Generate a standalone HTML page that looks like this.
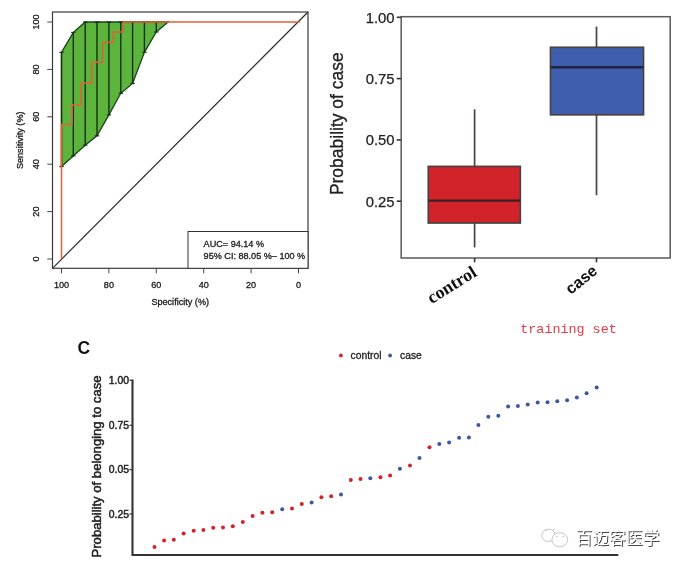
<!DOCTYPE html>
<html><head><meta charset="utf-8"><title>ROC / boxplot / probability plot</title>
<style>
html,body{margin:0;padding:0;background:#fff;}
body{width:681px;height:567px;overflow:hidden;font-family:"Liberation Sans","Noto Sans CJK SC",sans-serif;}
svg{display:block}
svg text{font-family:"Liberation Sans","Noto Sans CJK SC",sans-serif;}
</style></head><body>
<svg width="681" height="567" viewBox="0 0 681 567">
<rect width="681" height="567" fill="#fff"/>
<!-- Panel A: ROC -->
<g>
<polygon points="61.5,52.3 73.3,32.4 85.2,22.0 97.0,22.0 108.9,22.0 120.8,22.0 132.6,22.0 144.4,22.0 156.3,22.0 168.2,22.0 168.2,22.0 156.3,32.0 144.4,52.3 132.6,83.4 120.8,93.3 108.9,114.9 97.0,135.8 85.2,145.2 73.3,155.9 61.5,166.6" fill="#5db43c" stroke="#1c4418" stroke-width="1.3"/>
<g stroke="#143214" stroke-width="1.4"><line x1="61.5" y1="52.3" x2="61.5" y2="166.6"/><line x1="73.3" y1="32.4" x2="73.3" y2="155.9"/><line x1="85.2" y1="22.0" x2="85.2" y2="145.2"/><line x1="97.0" y1="22.0" x2="97.0" y2="135.8"/><line x1="108.9" y1="22.0" x2="108.9" y2="114.9"/><line x1="120.8" y1="22.0" x2="120.8" y2="93.3"/><line x1="132.6" y1="22.0" x2="132.6" y2="83.4"/><line x1="144.4" y1="22.0" x2="144.4" y2="52.3"/><line x1="156.3" y1="22.0" x2="156.3" y2="32.0"/></g><g stroke="#143214" stroke-width="1.1"><line x1="59.3" y1="52.3" x2="63.7" y2="52.3"/><line x1="71.1" y1="32.4" x2="75.5" y2="32.4"/><line x1="83.0" y1="22.0" x2="87.4" y2="22.0"/><line x1="94.8" y1="22.0" x2="99.2" y2="22.0"/><line x1="106.7" y1="22.0" x2="111.1" y2="22.0"/><line x1="118.5" y1="22.0" x2="123.0" y2="22.0"/><line x1="130.4" y1="22.0" x2="134.8" y2="22.0"/><line x1="142.2" y1="22.0" x2="146.6" y2="22.0"/><line x1="154.1" y1="22.0" x2="158.5" y2="22.0"/><line x1="59.3" y1="166.6" x2="63.7" y2="166.6"/><line x1="71.1" y1="155.9" x2="75.5" y2="155.9"/><line x1="83.0" y1="145.2" x2="87.4" y2="145.2"/><line x1="94.8" y1="135.8" x2="99.2" y2="135.8"/><line x1="106.7" y1="114.9" x2="111.1" y2="114.9"/><line x1="118.5" y1="93.3" x2="123.0" y2="93.3"/><line x1="130.4" y1="83.4" x2="134.8" y2="83.4"/><line x1="142.2" y1="52.3" x2="146.6" y2="52.3"/><line x1="154.1" y1="32.0" x2="158.5" y2="32.0"/></g>
<line x1="52.5" y1="268.3" x2="308" y2="12" stroke="#2a2a2a" stroke-width="1.2"/>
<polyline points="61.5,259 61.5,124.4 72,124.4 72,105 81.2,105 81.2,83.3 91.8,83.3 91.8,62.3 102.6,62.3 102.6,42.3 113.4,42.3 113.4,32 123.3,32 123.3,22 299.8,22" fill="none" stroke="#e55f3a" stroke-width="1.5"/>
<rect x="52.5" y="12" width="255.5" height="256.3" fill="none" stroke="#3a3a3a" stroke-width="1.2"/>
<rect x="188" y="231.5" width="120" height="36.8" fill="#fff" stroke="#333" stroke-width="1"/>
<g stroke="#444" stroke-width="1"><line x1="47.3" y1="259.0" x2="52.5" y2="259.0"/><line x1="298.5" y1="268.3" x2="298.5" y2="273.3"/><line x1="47.3" y1="211.6" x2="52.5" y2="211.6"/><line x1="251.1" y1="268.3" x2="251.1" y2="273.3"/><line x1="47.3" y1="164.2" x2="52.5" y2="164.2"/><line x1="203.7" y1="268.3" x2="203.7" y2="273.3"/><line x1="47.3" y1="116.8" x2="52.5" y2="116.8"/><line x1="156.3" y1="268.3" x2="156.3" y2="273.3"/><line x1="47.3" y1="69.4" x2="52.5" y2="69.4"/><line x1="108.9" y1="268.3" x2="108.9" y2="273.3"/><line x1="47.3" y1="22.0" x2="52.5" y2="22.0"/><line x1="61.5" y1="268.3" x2="61.5" y2="273.3"/></g>
<g font-size="9.1" fill="#1a1a1a" stroke="#1a1a1a" stroke-width="0.3"><text transform="translate(39.2,259.0) rotate(-90)" text-anchor="middle">0</text><text x="298.5" y="288" text-anchor="middle">0</text><text transform="translate(39.2,211.6) rotate(-90)" text-anchor="middle">20</text><text x="251.1" y="288" text-anchor="middle">20</text><text transform="translate(39.2,164.2) rotate(-90)" text-anchor="middle">40</text><text x="203.7" y="288" text-anchor="middle">40</text><text transform="translate(39.2,116.8) rotate(-90)" text-anchor="middle">60</text><text x="156.3" y="288" text-anchor="middle">60</text><text transform="translate(39.2,69.4) rotate(-90)" text-anchor="middle">80</text><text x="108.9" y="288" text-anchor="middle">80</text><text transform="translate(39.2,22.0) rotate(-90)" text-anchor="middle">100</text><text x="61.5" y="288" text-anchor="middle">100</text>
<text x="180.2" y="304.5" text-anchor="middle">Specificity (%)</text>
<text transform="translate(23.2,140.3) rotate(-90)" text-anchor="middle">Sensitivity (%)</text>
<text x="203.6" y="247">AUC= 94.14 %</text>
<text x="203.6" y="258.6">95% CI: 88.05 %– 100 %</text>
</g>
</g>
<!-- Panel B: boxplot -->
<g>
<rect x="401.2" y="16.7" width="269" height="241.3" fill="#fff" stroke="#5a5a5a" stroke-width="1.5"/>
<g stroke="#333" stroke-width="1.6">
<line x1="396.7" y1="17.3" x2="401" y2="17.3"/><line x1="396.7" y1="78.6" x2="401" y2="78.6"/><line x1="396.7" y1="139.9" x2="401" y2="139.9"/><line x1="396.7" y1="201.2" x2="401" y2="201.2"/>
<line x1="474.6" y1="258" x2="474.6" y2="262.3"/><line x1="596.5" y1="258" x2="596.5" y2="262.3"/>
</g>
<g font-size="14.8" fill="#222" stroke="#222" stroke-width="0.25" text-anchor="end">
<text x="394.6" y="22.6">1.00</text><text x="394.6" y="83.9">0.75</text><text x="394.6" y="145.2">0.50</text><text x="394.6" y="206.5">0.25</text>
</g>
<text transform="translate(343,123.7) rotate(-90) scale(0.972,1)" text-anchor="middle" font-size="18" fill="#222" stroke="#222" stroke-width="0.3">Probability of case</text>
<g stroke="#4a4242" stroke-width="1.7">
<line x1="474.6" y1="109.3" x2="474.6" y2="247.4"/>
<line x1="596.5" y1="26.6" x2="596.5" y2="195.2"/>
<rect x="428.3" y="166.4" width="92" height="56.6" fill="#d2232a"/>
<rect x="550.5" y="47.3" width="93" height="67.5" fill="#3f5fae"/>
</g>
<line x1="428.3" y1="200.6" x2="520.3" y2="200.6" stroke="#3a2222" stroke-width="2.4"/>
<line x1="550.5" y1="67.3" x2="643.5" y2="67.3" stroke="#20253f" stroke-width="2.4"/>
<text transform="translate(478,275.3) rotate(-32)" text-anchor="end" font-family="'Liberation Serif',serif" style="font-family:'Liberation Serif',serif" font-weight="bold" font-size="18" fill="#111">control</text>
<text transform="translate(598.5,272.6) rotate(-39)" text-anchor="end" font-weight="bold" font-size="16" fill="#111">case</text>
</g>
<text x="520.3" y="333" font-size="13.4" fill="#e23a48" style="font-family:'Liberation Mono',monospace">training set</text>
<!-- Panel C -->
<g>
<text x="77.5" y="354.4" font-size="17.5" font-weight="bold" fill="#111">C</text>
<circle cx="340.9" cy="355.5" r="1.9" fill="#d2232a"/><text x="350.6" y="359" font-size="10.3" fill="#222" stroke="#222" stroke-width="0.3">control</text>
<circle cx="390.1" cy="355.5" r="1.9" fill="#3d56a6"/><text x="400" y="359" font-size="10.3" fill="#222" stroke="#222" stroke-width="0.3">case</text>
<path d="M132.5,379.5 V555 H618.3" fill="none" stroke="#333" stroke-width="2.1"/>
<g stroke="#333" stroke-width="1.2"><line x1="129.5" y1="380.3" x2="132" y2="380.3"/><line x1="129.5" y1="425.3" x2="132" y2="425.3"/><line x1="129.5" y1="469.6" x2="132" y2="469.6"/><line x1="129.5" y1="514" x2="132" y2="514"/></g>
<g font-size="10.4" fill="#222" text-anchor="end" stroke="#222" stroke-width="0.45">
<text x="129" y="384">1.00</text><text x="129" y="429">0.75</text><text x="129" y="473.3">0.05</text><text x="129" y="517.7">0.25</text>
</g>
<text transform="translate(101.2,466.5) rotate(-90)" text-anchor="middle" font-size="13.1" fill="#222" stroke="#222" stroke-width="0.5">Probability of belonging to case</text>
<circle cx="154.5" cy="547.1" r="2" fill="#d2232a"/><circle cx="164.1" cy="540.4" r="2" fill="#d2232a"/><circle cx="173.8" cy="539.7" r="2" fill="#d2232a"/><circle cx="183.6" cy="533.6" r="2" fill="#d2232a"/><circle cx="193.7" cy="530.7" r="2" fill="#d2232a"/><circle cx="203.4" cy="530.1" r="2" fill="#d2232a"/><circle cx="213.2" cy="527.8" r="2" fill="#d2232a"/><circle cx="223.0" cy="527.5" r="2" fill="#d2232a"/><circle cx="232.8" cy="526.2" r="2" fill="#d2232a"/><circle cx="242.8" cy="521.9" r="2" fill="#d2232a"/><circle cx="252.6" cy="515.9" r="2" fill="#d2232a"/><circle cx="262.4" cy="512.7" r="2" fill="#d2232a"/><circle cx="272.2" cy="512.2" r="2" fill="#d2232a"/><circle cx="282.2" cy="509.3" r="2" fill="#3d56a6"/><circle cx="292.0" cy="508.5" r="2" fill="#d2232a"/><circle cx="301.8" cy="504.0" r="2" fill="#d2232a"/><circle cx="311.6" cy="502.6" r="2" fill="#3d56a6"/><circle cx="321.4" cy="497.3" r="2" fill="#d2232a"/><circle cx="331.2" cy="496.2" r="2" fill="#d2232a"/><circle cx="341.0" cy="494.4" r="2" fill="#3d56a6"/><circle cx="350.8" cy="480.1" r="2" fill="#d2232a"/><circle cx="360.5" cy="479.0" r="2" fill="#d2232a"/><circle cx="370.3" cy="478.2" r="2" fill="#3d56a6"/><circle cx="380.4" cy="477.2" r="2" fill="#d2232a"/><circle cx="390.1" cy="475.6" r="2" fill="#d2232a"/><circle cx="399.9" cy="468.7" r="2" fill="#3d56a6"/><circle cx="410.0" cy="465.6" r="2" fill="#d2232a"/><circle cx="419.5" cy="457.9" r="2" fill="#3d56a6"/><circle cx="429.5" cy="447.3" r="2" fill="#d2232a"/><circle cx="439.3" cy="443.9" r="2" fill="#3d56a6"/><circle cx="449.1" cy="442.6" r="2" fill="#3d56a6"/><circle cx="459.1" cy="437.8" r="2" fill="#3d56a6"/><circle cx="468.9" cy="437.5" r="2" fill="#3d56a6"/><circle cx="478.4" cy="425.1" r="2" fill="#3d56a6"/><circle cx="488.3" cy="416.8" r="2" fill="#3d56a6"/><circle cx="498.3" cy="415.8" r="2" fill="#3d56a6"/><circle cx="508.1" cy="406.5" r="2" fill="#3d56a6"/><circle cx="517.9" cy="406.0" r="2" fill="#3d56a6"/><circle cx="527.7" cy="404.4" r="2" fill="#3d56a6"/><circle cx="537.7" cy="402.6" r="2" fill="#3d56a6"/><circle cx="547.5" cy="402.3" r="2" fill="#3d56a6"/><circle cx="557.3" cy="401.2" r="2" fill="#3d56a6"/><circle cx="567.1" cy="400.2" r="2" fill="#3d56a6"/><circle cx="576.8" cy="397.5" r="2" fill="#3d56a6"/><circle cx="586.6" cy="393.3" r="2" fill="#3d56a6"/><circle cx="596.7" cy="387.5" r="2" fill="#3d56a6"/>
</g>
<!-- watermark -->
<g>
<g fill="#fff" stroke="#b0b0b0" stroke-width="0.7">
<ellipse cx="548.6" cy="535.4" rx="6.8" ry="6.2"/>
<ellipse cx="559.8" cy="539.8" rx="7.9" ry="7.1"/>
</g>
<g fill="#aaa"><circle cx="546" cy="530.3" r="0.6"/><circle cx="553.5" cy="529.6" r="0.6"/><circle cx="557" cy="536.4" r="0.6"/><circle cx="563.2" cy="536.4" r="0.6"/></g>
<text x="575.5" y="544" font-size="16.8" font-weight="400" fill="#fff" style="text-shadow:1px 1px 0.6px #444">百迈客医学</text>
</g>
</svg>
</body></html>
